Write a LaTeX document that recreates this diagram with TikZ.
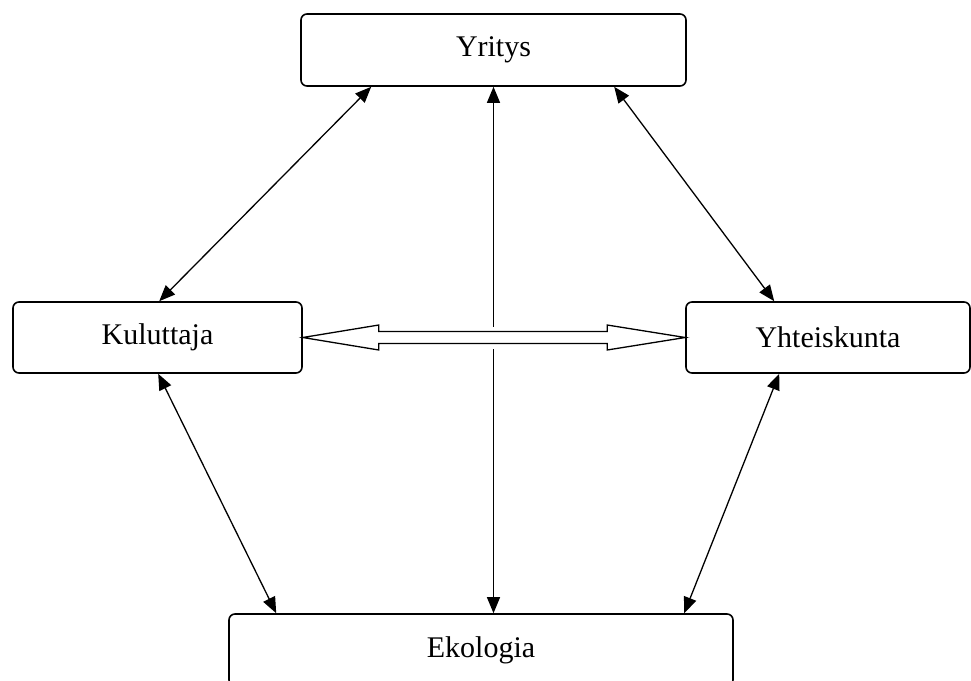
\documentclass[tikz,border=0pt]{standalone}
\usepackage{fontspec}
\setmainfont{Liberation Serif}
\usetikzlibrary{arrows.meta,calc}
\tikzset{
  box/.style={draw, line width=1.6pt, rounded corners=6pt, fill=white, inner sep=0pt,
    font=\fontsize{30}{34}\selectfont},
  link/.style={line width=1.3pt, {Triangle[length=16pt,width=13pt]}-{Triangle[length=16pt,width=13pt]}},
}
\begin{document}
\begin{tikzpicture}[x=1pt,y=-1pt]
\useasboundingbox (0,0) rectangle (971,680);
\clip (0,0) rectangle (971,680);
\node[box, minimum width=385pt, minimum height=72pt] (yr) at (493.5,50) {Yritys};
\node[box, minimum width=289pt, minimum height=71pt] (kul) at (157.5,337.5) {Kuluttaja};
\node[box, minimum width=284pt, minimum height=71pt] (yht) at (828,337.5) {Yhteiskunta};
\node[box, minimum width=504pt, minimum height=72pt] (eko) at (481,650) {Ekologia};
% connectors
\draw[link] ([xshift=147pt]kul.north west) -- ([xshift=71pt]yr.south west);
\draw[link] ([xshift=314pt]yr.south west) -- ([xshift=89pt]yht.north west);
\draw[link] (yr.south) -- (yr.south |- eko.north);
\draw[link] ([xshift=146pt]kul.south west) -- ([xshift=48pt]eko.north west);
\draw[link] ([xshift=94pt]yht.south west) -- ([xshift=456pt]eko.north west);
% double arrow between Kuluttaja and Yhteiskunta
\coordinate (da1) at (kul.east);
\coordinate (da2) at (yht.west);
\path[draw=white, line width=10pt, line join=miter]
  ($(da1)+(76,-6)$) -- ($(da2)+(-78,-6)$) -- ($(da2)+(-78,6)$) -- ($(da1)+(76,6)$) -- cycle;
\draw[line width=1.3pt, fill=white, line join=miter]
  (da1) -- ($(da1)+(76,-12.5)$) -- ($(da1)+(76,-6)$) -- ($(da2)+(-78,-6)$)
  -- ($(da2)+(-78,-12.5)$) -- (da2) -- ($(da2)+(-78,12.5)$) -- ($(da2)+(-78,6)$)
  -- ($(da1)+(76,6)$) -- ($(da1)+(76,12.5)$) -- cycle;
\end{tikzpicture}
\end{document}
